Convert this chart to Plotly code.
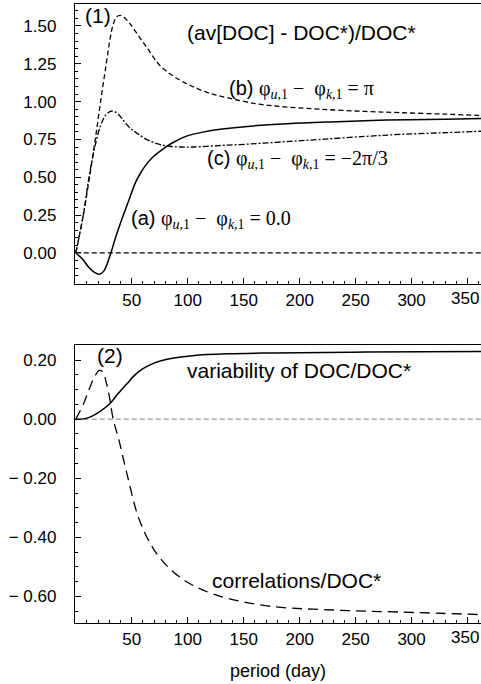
import plotly.graph_objects as go

# ---------------- data ----------------
# Panel (1): (av[DOC] - DOC*)/DOC*
a_x = [0, 6.5, 11.5, 17, 21, 25, 30, 35.5, 42.5, 48, 53, 58, 63, 68, 73.5, 81.5, 89, 99, 114.5, 129, 156, 189, 228, 278, 330, 365]
a_y = [0, -0.045, -0.095, -0.13, -0.14, -0.12, -0.03, 0.10, 0.25, 0.36, 0.46, 0.53, 0.585, 0.628, 0.662, 0.706, 0.738, 0.772, 0.80, 0.817, 0.838, 0.854, 0.866, 0.878, 0.884, 0.888]

b_x = [0, 6.5, 11.8, 17, 22, 27.2, 30.3, 33.4, 36.5, 39.6, 42.6, 47.8, 54, 63.2, 75.5, 88.9, 104.3, 119.7, 135.2, 161.9, 186.6, 218.4, 258.5, 289.4, 330.5, 365]
b_y = [0, 0.24, 0.48, 0.73, 0.99, 1.25, 1.40, 1.51, 1.56, 1.57, 1.56, 1.52, 1.457, 1.36, 1.236, 1.16, 1.10, 1.055, 1.026, 0.985, 0.965, 0.95, 0.935, 0.927, 0.917, 0.908]

c_x = [0, 6.7, 11.8, 17, 22.1, 27.2, 32.4, 37.5, 42.6, 47.8, 54, 63.2, 73.5, 83.8, 94, 104.3, 129, 155.7, 186.6, 218.4, 258.5, 289.4, 330.5, 365]
c_y = [0, 0.25, 0.50, 0.70, 0.84, 0.915, 0.938, 0.92, 0.875, 0.83, 0.795, 0.75, 0.72, 0.705, 0.70, 0.70, 0.71, 0.72, 0.735, 0.75, 0.77, 0.783, 0.795, 0.805]

# Panel (2)
var_x = [0, 6.7, 11.8, 15.9, 22.1, 30.3, 37.5, 45.7, 52.9, 60.1, 68.3, 75.5, 88.9, 104.3, 135.2, 176.3, 258.5, 365]
var_y = [0, 0.001, 0.006, 0.013, 0.027, 0.052, 0.085, 0.12, 0.15, 0.171, 0.187, 0.197, 0.208, 0.215, 0.221, 0.224, 0.227, 0.229]

cor_x = [0, 6.7, 11.8, 17, 21, 24.1, 27.2, 30.3, 33.4, 38.5, 45.7, 57, 72.4, 93, 122.8, 171.1, 229.7, 289.4, 365]
cor_y = [0, 0.05, 0.10, 0.145, 0.165, 0.16, 0.125, 0.07, 0.0, -0.07, -0.185, -0.343, -0.456, -0.535, -0.592, -0.632, -0.646, -0.653, -0.662]

zero_x = [0, 365]
zero_y = [0, 0]

x_ticks = [50, 100, 150, 200, 250, 300, 350]
x_labels = ["50", "100", "150", "200", "250", "300", ""]   # last label drawn separately (it touches the edge)
x_last_label = "350"
y1_ticks = [0.0, 0.25, 0.5, 0.75, 1.0, 1.25, 1.5]
y1_labels = ["0.00", "0.25", "0.50", "0.75", "1.00", "1.25", "1.50"]
y2_ticks = [-0.6, -0.4, -0.2, 0.0, 0.2]
y2_labels = ["\u2212 0.60", "\u2212 0.40", "\u2212 0.20", "0.00", "0.20"]

# ---------------- figure ----------------
SANS = "Liberation Sans, Arial, Helvetica, sans-serif"
SERIF = "Liberation Serif, Times New Roman, serif"

fig = go.Figure()

fig.add_trace(go.Scatter(x=zero_x, y=zero_y, mode="lines", line=dict(color="black", width=1.3, dash="5px,3px"),
                         xaxis="x", yaxis="y", showlegend=False))
fig.add_trace(go.Scatter(x=a_x, y=a_y, mode="lines", line=dict(color="black", width=1.5, shape="spline"),
                         xaxis="x", yaxis="y", showlegend=False))
fig.add_trace(go.Scatter(x=b_x, y=b_y, mode="lines", line=dict(color="black", width=1.3, dash="5px,3px", shape="spline"),
                         xaxis="x", yaxis="y", showlegend=False))
fig.add_trace(go.Scatter(x=c_x, y=c_y, mode="lines", line=dict(color="black", width=1.3, dash="6px,2px,2px,2px", shape="spline"),
                         xaxis="x", yaxis="y", showlegend=False))

fig.add_trace(go.Scatter(x=zero_x, y=zero_y, mode="lines", line=dict(color="#808080", width=1, dash="5px,3px"),
                         xaxis="x2", yaxis="y2", showlegend=False))
fig.add_trace(go.Scatter(x=var_x, y=var_y, mode="lines", line=dict(color="black", width=1.5, shape="spline"),
                         xaxis="x2", yaxis="y2", showlegend=False))
fig.add_trace(go.Scatter(x=cor_x, y=cor_y, mode="lines", line=dict(color="black", width=1.3, dash="10px,6px", shape="spline"),
                         xaxis="x2", yaxis="y2", showlegend=False))

xcommon = dict(range=[-0.7, 362], tickmode="array", tickvals=x_ticks, ticktext=x_labels, ticks="inside", ticklen=6,
               tickwidth=1, tickcolor="black",
               showline=True, linecolor="black", linewidth=1.3, mirror=True, showgrid=False, zeroline=False,
               tickfont=dict(family=SANS, size=17, color="black"),
               minor=dict(tickmode="linear", dtick=10, tick0=0, ticks="inside", ticklen=3, tickwidth=1,
                          tickcolor="black", showgrid=False))
ycommon = dict(tickmode="array", ticks="inside", ticklen=6, tickwidth=1, tickcolor="black", showline=True, linecolor="black",
               linewidth=1.3, mirror=False, showgrid=False, zeroline=False,
               tickfont=dict(family=SANS, size=17, color="black"), ticklabelstandoff=14,
               minor=dict(tickmode="linear", dtick=0.05, tick0=0, ticks="inside", ticklen=3, tickwidth=1,
                          tickcolor="black", showgrid=False))

fig.update_layout(
    width=481, height=684,
    margin=dict(l=75, r=0, t=4, b=61),
    paper_bgcolor="white", plot_bgcolor="white",
    font=dict(family=SANS, color="black"),
    xaxis=dict(**xcommon, anchor="y", domain=[0, 1]),
    yaxis=dict(**ycommon, domain=[0.5477, 1], range=[-0.205, 1.645], tickvals=y1_ticks, ticktext=y1_labels, anchor="x"),
    xaxis2=dict(**xcommon, anchor="y2", domain=[0, 1],
                title=dict(text="period (day)", font=dict(family=SANS, size=18, color="black"), standoff=16)),
    yaxis2=dict(**ycommon, domain=[0, 0.4491], range=[-0.69, 0.251], tickvals=y2_ticks, ticktext=y2_labels, anchor="x2"),
)

# the "350" tick label of each panel, right-aligned at the plot edge
for xr, yr in (("x", "y domain"), ("x2", "y2 domain")):
    fig.add_annotation(xref=xr, yref=yr, x=361.6, y=0, text=x_last_label, showarrow=False,
                       xanchor="right", yanchor="top", yshift=-3,
                       font=dict(family=SANS, size=17, color="black"))

def math(s):
    return "<span style='font-family:%s'>%s</span>" % (SERIF, s)

ann = [
    ("x", "y", 6.4, 1.567, "(1)", 21),
    ("x", "y", 97.6, 1.457, "(av[DOC] - DOC*)/DOC*", 21),
    ("x", "y", 134.9, 1.082, "(b) " + math("φ<sub><i>u</i>,1</sub> \u2212  φ<sub><i>k</i>,1</sub> = π"), 20),
    ("x", "y", 115.5, 0.618, "(c) " + math("φ<sub><i>u</i>,1</sub> \u2212  φ<sub><i>k</i>,1</sub> = \u22122π/3"), 20),
    ("x", "y", 47.8, 0.22, "(a) " + math("φ<sub><i>u</i>,1</sub> \u2212  φ<sub><i>k</i>,1</sub> = 0.0"), 20),
    ("x2", "y2", 17.2, 0.216, "(2)", 21),
    ("x2", "y2", 97.6, 0.165, "variability of DOC/DOC*", 21),
    ("x2", "y2", 119.9, -0.547, "correlations/DOC*", 21),
]
for xr, yr, x, y, t, s in ann:
    fig.add_annotation(xref=xr, yref=yr, x=x, y=y, text=t, showarrow=False, xanchor="left", yanchor="middle",
                       font=dict(family=SANS, size=s, color="black"))

fig.write_html("out.html")
